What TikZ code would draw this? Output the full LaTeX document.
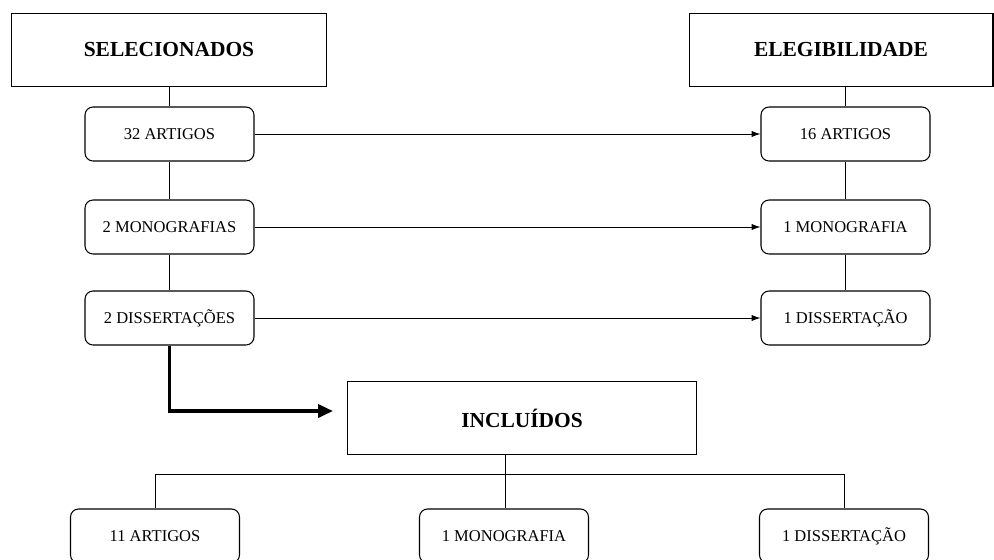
\documentclass[tikz,border=0pt]{standalone}
\usepackage{fontspec}
\setmainfont{Liberation Serif}
\usetikzlibrary{arrows.meta}
\tikzset{
  titulo/.style={draw, line width=0.6pt, minimum width=6.32cm, minimum height=1.46cm, font=\fontsize{12.2}{14}\selectfont\bfseries},
  caixa/.style={draw, rounded corners=0.16cm, line width=0.6pt, minimum width=3.38cm, minimum height=1.08cm, font=\fontsize{9.4}{11}\selectfont},
  seta/.style={-{Latex[length=5pt,width=3.5pt]}, line width=0.5pt},
  liga/.style={line width=0.5pt}
}
\begin{document}
\begin{tikzpicture}[x=0.02cm,y=-0.02cm]
\fill[white] (0,0) rectangle (994,559);
\clip (0,0) rectangle (994,559);
\node[titulo] (sel) at (169,50){SELECIONADOS};
\node[titulo, minimum width=6.08cm] (ele) at (841,50){ELEGIBILIDADE};
\node[caixa] (a1) at (169.5,134){32 ARTIGOS};
\node[caixa] (m1) at (169.5,227){2 MONOGRAFIAS};
\node[caixa] (d1) at (169.5,318){2 DISSERTAÇÕES};
\node[caixa] (a2) at (845.5,134){16 ARTIGOS};
\node[caixa] (m2) at (845.5,227){1 MONOGRAFIA};
\node[caixa] (d2) at (845.5,318){1 DISSERTAÇÃO};
\node[titulo, minimum width=6.98cm] (inc) at (522,418){INCLUÍDOS};
\node[caixa] (a3) at (155,536){11 ARTIGOS};
\node[caixa] (m3) at (504,536){1 MONOGRAFIA};
\node[caixa] (d3) at (844,536){1 DISSERTAÇÃO};
% colunas
\draw[liga] (sel.south -| a1) -- (a1.north);
\draw[liga] (a1) -- (m1); \draw[liga] (m1) -- (d1);
\draw[liga] (ele.south -| a2) -- (a2.north);
\draw[liga] (a2) -- (m2); \draw[liga] (m2) -- (d2);
% setas
\draw[seta] (a1) -- (a2);
\draw[seta] (m1) -- (m2);
\draw[seta] (d1) -- (d2);
\coordinate (fim) at (333,411);
\draw[-{Triangle[length=8.5pt,width=7.4pt]}, line width=2pt] (d1.south) |- (fim);
% incluidos
\coordinate (garfo) at (505,474);
\draw[liga] (inc.south -| garfo) -- (m3.north -| garfo);
\draw[liga] (a3.north) |- (garfo) -| (d3.north);
\end{tikzpicture}
\end{document}
